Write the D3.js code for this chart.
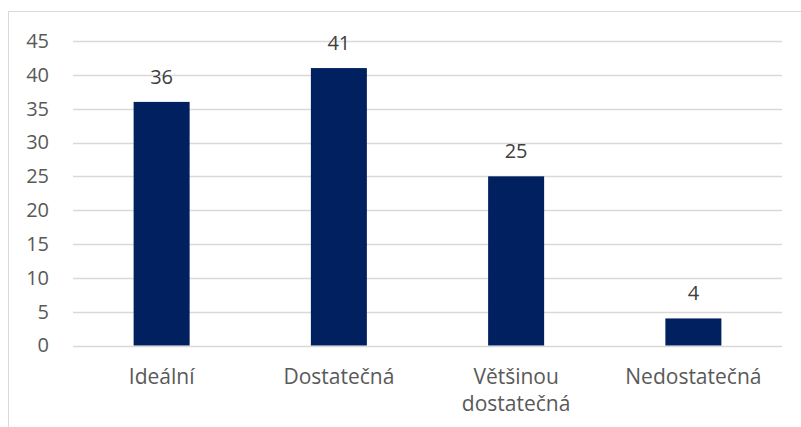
<!DOCTYPE html>
<html>
<head>
<meta charset="utf-8">
<script src="https://cdn.jsdelivr.net/npm/d3@7"></script>
<style>
  html, body { margin: 0; padding: 0; background: #fff; }
  svg { display: block; }
  text { font-family: "Open Sans", "Noto Sans", sans-serif; }
</style>
</head>
<body>
<svg id="chart" width="801" height="427"></svg>
<script>
const categories = ["Ideální", "Dostatečná", "Většinou dostatečná", "Nedostatečná"];
const categoryLines = [["Ideální"], ["Dostatečná"], ["Většinou", "dostatečná"], ["Nedostatečná"]];
const values = [36, 41, 25, 4];
const yTicks = [0, 5, 10, 15, 20, 25, 30, 35, 40, 45];

const svg = d3.select("#chart");
const W = 801, H = 427;
const plot = { left: 73, right: 782, top: 41, bottom: 345.5 };
const FS = "20px";
const FS_CAT = "21px";

// chart frame (only left and top edges fall inside the view)
svg.append("rect")
  .attr("x", 8.5).attr("y", 11.5)
  .attr("width", W + 20).attr("height", H + 20)
  .attr("fill", "#fff").attr("stroke", "#d9d9d9").attr("stroke-width", 1);

const x = d3.scaleBand().domain(categories).range([plot.left, plot.right]).paddingInner(0.684).paddingOuter(0.342);
const y = d3.scaleLinear().domain([0, 45]).range([plot.bottom, plot.top]);

// gridlines
svg.append("g").selectAll("line").data(yTicks).join("line")
  .attr("x1", plot.left).attr("x2", plot.right)
  .attr("y1", d => Math.round(y(d)) + 0.5).attr("y2", d => Math.round(y(d)) + 0.5)
  .attr("stroke", "#d9d9d9").attr("stroke-width", 1.3);

// y axis labels
const yAxis = d3.axisLeft(y).tickValues(yTicks).tickSize(0).tickPadding(0);
const gy = svg.append("g").attr("transform", `translate(49,0)`).call(yAxis);
gy.select(".domain").remove();
gy.selectAll("text").attr("fill", "#595959").attr("font-size", FS)
  .style("font-family", '"Open Sans", "Noto Sans", sans-serif');

// bars
svg.append("g").selectAll("rect").data(values).join("rect")
  .attr("x", (d, i) => x(categories[i]))
  .attr("width", x.bandwidth())
  .attr("y", d => y(d))
  .attr("height", d => y(0) - y(d))
  .attr("fill", "#002060");

// value labels
svg.append("g").selectAll("text").data(values).join("text")
  .attr("x", (d, i) => x(categories[i]) + x.bandwidth() / 2)
  .attr("y", d => y(d) - 18)
  .attr("text-anchor", "middle")
  .attr("font-size", FS)
  .attr("fill", "#404040")
  .text(d => d);

// category labels
const cat = svg.append("g").selectAll("text").data(categoryLines).join("text")
  .attr("x", (d, i) => x(categories[i]) + x.bandwidth() / 2)
  .attr("y", 384)
  .attr("text-anchor", "middle")
  .attr("font-size", FS_CAT)
  .attr("fill", "#595959");
cat.selectAll("tspan").data(d => d).join("tspan")
  .attr("x", function () { return this.parentNode.getAttribute("x"); })
  .attr("dy", (d, i) => i === 0 ? 0 : 27)
  .text(d => d);
</script>
</body>
</html>
